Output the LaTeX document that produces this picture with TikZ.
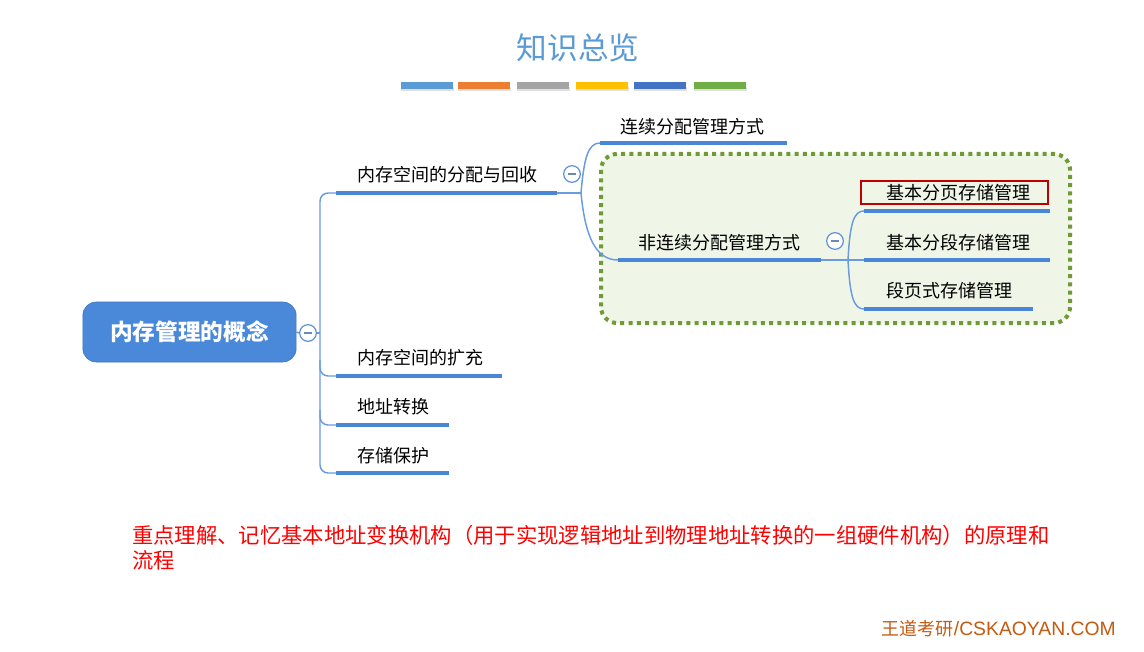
\documentclass[tikz,border=0pt]{standalone}
\usepackage{fontspec}
\newfontfamily\cjk{Noto Sans CJK SC}
\newfontfamily\arialike{Liberation Sans}
\definecolor{titleblue}{HTML}{5B9BD5}
\definecolor{ublue}{HTML}{4A86D8}
\definecolor{lineblue}{HTML}{6A9BE0}
\definecolor{rootblue}{HTML}{4A88DA}
\definecolor{cblue}{HTML}{5B8FD8}
\definecolor{dgreen}{HTML}{6E9B34}
\definecolor{lgreen}{HTML}{EFF6E7}
\definecolor{redbox}{HTML}{C00000}
\definecolor{b1}{HTML}{5B9BD5}
\definecolor{b2}{HTML}{ED7D31}
\definecolor{b3}{HTML}{A5A5A5}
\definecolor{b4}{HTML}{FFC000}
\definecolor{b5}{HTML}{4472C4}
\definecolor{b6}{HTML}{70AD47}
\definecolor{footc}{HTML}{C55A11}
\begin{document}
\begin{tikzpicture}[x=0.75pt,y=-0.75pt,
  conn/.style={draw=lineblue, line width=1.1pt},
  uline/.style={draw=ublue, line width=3pt},
  topic/.style={font=\cjk\fontsize{13.5}{16}\selectfont, text=black, inner sep=0pt, anchor=west},
  collapse/.style={circle, draw=cblue, fill=white, line width=0.9pt, minimum size=12.5pt, inner sep=0pt,
    path picture={\draw[cblue!60!gray, line width=1pt] ([xshift=-3.2pt]path picture bounding box.center) -- ([xshift=3.2pt]path picture bounding box.center);}},
  bar/.style={minimum width=39pt, minimum height=5pt, inner sep=0pt},
  barshadow/.style={fill=black!12}]
\useasboundingbox (0,0) rectangle (1144,652);
\fill[white] (0,0) rectangle (1144,652);

% title
\node[font=\cjk\fontsize{23}{26}\selectfont, text=titleblue] (title) at (578,48) {知识总览};

% colour bars
\foreach \x/\c [count=\i] in {427/b1,484/b2,543/b3,602/b4,660/b5,720/b6}{
  \fill[barshadow] (\x-26,87) rectangle (\x+27,91);
  \node[bar, fill=\c] (bar\i) at (\x,85.5) {};
}

% root
\node[rounded corners=10pt, fill=rootblue, draw=rootblue!85!black, line width=0.4pt, minimum width=160pt, minimum height=45pt,
  font=\cjk\bfseries\fontsize{17}{20}\selectfont, text=white] (root) at (189.5,332) {内存管理的概念};
\node[collapse] (c0) at (308,333) {};

% trunk coordinates
\coordinate (tr0) at (320,333);
\coordinate (trA) at (320,193);
\coordinate (trD) at (320,473);
\coordinate (u1l) at (336,193); \coordinate (u1r) at (557,193);
\coordinate (u2l) at (336,376); \coordinate (u2r) at (502,376);
\coordinate (u3l) at (336,425); \coordinate (u3r) at (449,425);
\coordinate (u4l) at (336,473); \coordinate (u4r) at (449,473);

% green dotted group
\draw[draw=dgreen, fill=lgreen, line width=3pt, dash pattern=on 3pt off 3.2pt, rounded corners=12pt] (601,154) rectangle (1070,323);

% level 2 coordinates
\coordinate (j1) at (581,193);
\coordinate (u5l) at (600,143); \coordinate (u5r) at (787,143);
\coordinate (u6l) at (618,260); \coordinate (u6r) at (821,260);
\coordinate (j2) at (848,260);
\coordinate (u7l) at (864,211); \coordinate (u7r) at (1050,211);
\coordinate (u8l) at (864,260); \coordinate (u8r) at (1050,260);
\coordinate (u9l) at (864,309); \coordinate (u9r) at (1033,309);

% connectors
\draw[conn] (c0.east) -- (tr0);
\draw[conn] (root.east) -- (c0.west);
\draw[conn, rounded corners=6pt] (u1l) -- (trA) -- (trD) -- (u4l);
\draw[conn, rounded corners=6pt] (320,360) -- (320,376) -- (u2l);
\draw[conn, rounded corners=6pt] (320,410) -- (320,425) -- (u3l);
\draw[conn] (u1r) -- (j1);
\draw[conn] (j1) .. controls (584,158) and (588,143) .. (u5l);
\draw[conn] (j1) .. controls (585,235) and (595,260) .. (u6l);
\draw[conn] (u6r) -- (j2);
\draw[conn] (j2) .. controls (850,222) and (854,211) .. (u7l);
\draw[conn] (j2) -- (u8l);
\draw[conn] (j2) .. controls (850,298) and (854,309) .. (u9l);

% underlines
\foreach \n in {1,...,9}{ \draw[uline] (u\n l) -- (u\n r); }

% collapse buttons
\node[collapse] (c1) at (572,174) {};
\node[collapse] (c2) at (835,241) {};

% topics
\node[topic] (t1) at (357,175) {内存空间的分配与回收};
\node[topic] (t2) at (357,358) {内存空间的扩充};
\node[topic] (t3) at (357,407) {地址转换};
\node[topic] (t4) at (357,456) {存储保护};
\node[topic] (t5) at (620,127) {连续分配管理方式};
\node[topic] (t6) at (638,243) {非连续分配管理方式};
\node[topic] (t7) at (886,193) {基本分页存储管理};
\node[topic] (t8) at (886,243) {基本分段存储管理};
\node[topic] (t9) at (886,291) {段页式存储管理};

% red highlight
\draw[redbox, line width=1.6pt] (861,181) rectangle (1048,204);

% note
\node[font=\cjk\fontsize{16}{19}\selectfont, text=red, anchor=north west, align=left, inner sep=0pt] (note) at (132,525)
  {重点理解、记忆基本地址变换机构（用于实现逻辑地址到物理地址转换的一组硬件机构）的原理和\\流程};

% footer
\node[text=footc, anchor=east, inner sep=0pt] (foot) at (1116,629)
  {{\cjk\fontsize{13.5}{16}\selectfont 王道考研}{\arialike\fontsize{14.5}{16}\selectfont /CSKAOYAN.COM}};
\end{tikzpicture}
\end{document}
